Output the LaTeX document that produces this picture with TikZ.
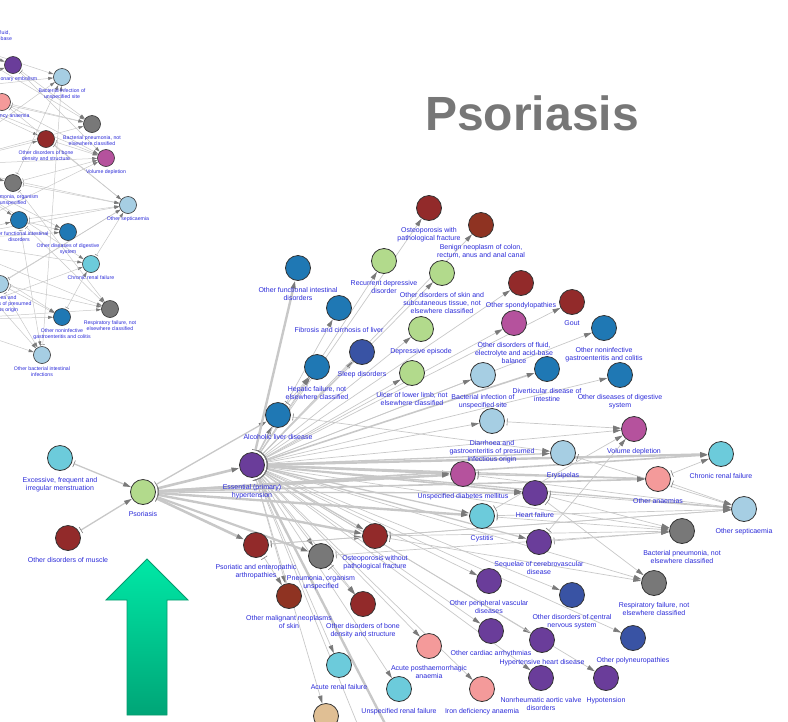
\documentclass[tikz,border=0pt]{standalone}
\usepackage{fontspec}
\setmainfont{Liberation Sans}
\usetikzlibrary{arrows.meta}
\pgfdeclarelayer{links}
\pgfsetlayers{links,main}

\definecolor{cPurple}{HTML}{6A3D9A}
\definecolor{cBlue}{HTML}{1F78B4}
\definecolor{cIndigo}{HTML}{3953A4}
\definecolor{cLightBlue}{HTML}{A6CEE3}
\definecolor{cCyan}{HTML}{6CCBDB}
\definecolor{cGreen}{HTML}{B2DA8C}
\definecolor{cDarkRed}{HTML}{922A2A}
\definecolor{cBrick}{HTML}{8F3322}
\definecolor{cMagenta}{HTML}{B5529D}
\definecolor{cPink}{HTML}{F49A9A}
\definecolor{cGrey}{HTML}{787878}
\definecolor{cTan}{HTML}{E0BF94}
\definecolor{nodeRim}{HTML}{333333}
\definecolor{labelBlue}{HTML}{2A2AD8}
\definecolor{edgeGrey}{HTML}{C8C8C8}
\definecolor{tipGrey}{HTML}{7A7A7A}
\definecolor{titleGrey}{HTML}{777777}
\definecolor{arrowTop}{HTML}{00E8A6}
\definecolor{arrowBottom}{HTML}{00A577}
\definecolor{arrowRim}{HTML}{089A6E}

\tikzset{
  dis/.style={circle, draw=nodeRim, line width=0.8pt, minimum size=25pt, inner sep=0pt, fill=#1},
  sdis/.style={circle, draw=nodeRim, line width=0.6pt, minimum size=17pt, inner sep=0pt, fill=#1},
  lbl/.style={font=\fontsize{7}{8}\selectfont, text=labelBlue, align=center, inner sep=0pt},
  slbl/.style={font=\fontsize{5.2}{5.8}\selectfont, text=labelBlue, align=center, inner sep=0pt},
  link/.style={draw=edgeGrey, line width=#1, shorten <=2pt,
    arrows={Bar[width=7pt,line width=0.6pt,color=tipGrey]-Triangle[length=8pt,width=4.5pt,color=tipGrey]}},
  link/.default=0.7pt,
  slink/.style={draw=edgeGrey, line width=0.5pt, shorten <=1.5pt,
    arrows={Bar[width=4pt,line width=0.4pt,color=tipGrey]-Triangle[length=5pt,width=3pt,color=tipGrey]}},
}

% one disease node of the main graph: colour, name, x, y, caption
\newcommand\disnode[5]{\node[dis=#1, label={[lbl]below:{#5}}] (#2) at (#3,#4) {};}
% one disease node of the small graph
\newcommand\sdisnode[5]{\node[sdis=#1, label={[slbl]below:{#5}}] (#2) at (#3,#4) {};}

\begin{document}
\begin{tikzpicture}[x=1pt, y=-1pt, label distance=6pt]
\useasboundingbox (0,0) rectangle (788,721);
\clip (0,0) rectangle (788,721);

% ---------- small graph on the left ----------
\begin{scope}[label distance=3pt]
\sdisnode{cMagenta}{lfl}{-17}{19}{Other disorders of fluid,\\electrolyte and acid-base\\balance}
\sdisnode{cPurple}{lpu}{13}{65}{Pulmonary embolism}
\sdisnode{cLightBlue}{lbis}{62}{77}{Bacterial infection of\\unspecified site}
\sdisnode{cPink}{lida}{2}{102}{Iron deficiency anaemia}
\sdisnode{cGrey}{lbpn}{92}{124}{Bacterial pneumonia, not\\elsewhere classified}
\sdisnode{cDarkRed}{lobd}{46}{139}{Other disorders of bone\\density and structure}
\sdisnode{cMagenta}{lvol}{106}{158}{Volume depletion}
\sdisnode{cGrey}{lpno}{13}{183}{Pneumonia, organism\\unspecified}
\sdisnode{cLightBlue}{lsep}{128}{205}{Other septicaemia}
\sdisnode{cBlue}{lofi}{19}{220}{Other functional intestinal\\disorders}
\sdisnode{cBlue}{lodd}{68}{232}{Other diseases of digestive\\system}
\sdisnode{cCyan}{lcrf}{91}{264}{Chronic renal failure}
\sdisnode{cLightBlue}{ldia}{0}{284}{Diarrhoea and\\gastroenteritis of presumed\\infectious origin}
\sdisnode{cGrey}{lrsf}{110}{309}{Respiratory failure, not\\elsewhere classified}
\sdisnode{cBlue}{lonc}{62}{317}{Other noninfective\\gastroenteritis and colitis}
\sdisnode{cLightBlue}{lobi}{42}{355}{Other bacterial intestinal\\infections}
\end{scope}
\coordinate (sa) at (-60,90);
\coordinate (sb) at (-60,165);
\coordinate (sc) at (-60,240);
\coordinate (sd) at (-60,320);
\coordinate (se) at (-50,40);

% ---------- main graph ----------
\disnode{cGreen}{ps}{143}{492}{Psoriasis}
\disnode{cCyan}{exc}{60}{458}{Excessive, frequent and\\irregular menstruation}
\disnode{cDarkRed}{mus}{68}{538}{Other disorders of muscle}
\disnode{cPurple}{eh}{252}{465}{Essential (primary)\\hypertension}
\disnode{cBlue}{ald}{278}{415}{Alcoholic liver disease}
\disnode{cBlue}{hep}{317}{367}{Hepatic failure, not\\elsewhere classified}
\disnode{cBlue}{fib}{339}{308}{Fibrosis and cirrhosis of liver}
\disnode{cBlue}{ofi}{298}{268}{Other functional intestinal\\disorders}
\disnode{cIndigo}{slp}{362}{352}{Sleep disorders}
\disnode{cGreen}{rdd}{384}{261}{Recurrent depressive\\disorder}
\disnode{cDarkRed}{opf}{429}{208}{Osteoporosis with\\pathological fracture}
\disnode{cBrick}{bnc}{481}{225}{Benign neoplasm of colon,\\rectum, anus and anal canal}
\disnode{cGreen}{ods}{442}{273}{Other disorders of skin and\\subcutaneous tissue, not\\elsewhere classified}
\disnode{cGreen}{dep}{421}{329}{Depressive episode}
\disnode{cGreen}{ulc}{412}{373}{Ulcer of lower limb, not\\elsewhere classified}
\disnode{cDarkRed}{osp}{521}{283}{Other spondylopathies}
\disnode{cDarkRed}{gou}{572}{302}{Gout}
\disnode{cMagenta}{flu}{514}{323}{Other disorders of fluid,\\electrolyte and acid-base\\balance}
\disnode{cBlue}{ong}{604}{328}{Other noninfective\\gastroenteritis and colitis}
\disnode{cLightBlue}{bis}{483}{375}{Bacterial infection of\\unspecified site}
\disnode{cBlue}{div}{547}{369}{Diverticular disease of\\intestine}
\disnode{cBlue}{odd}{620}{375}{Other diseases of digestive\\system}
\disnode{cLightBlue}{dia}{492}{421}{Diarrhoea and\\gastroenteritis of presumed\\infectious origin}
\disnode{cMagenta}{vol}{634}{429}{Volume depletion}
\disnode{cLightBlue}{ery}{563}{453}{Erysipelas}
\disnode{cCyan}{crf}{721}{454}{Chronic renal failure}
\disnode{cMagenta}{udm}{463}{474}{Unspecified diabetes mellitus}
\disnode{cPink}{oan}{658}{479}{Other anaemias}
\disnode{cPurple}{hf}{535}{493}{Heart failure}
\disnode{cLightBlue}{sep}{744}{509}{Other septicaemia}
\disnode{cCyan}{cys}{482}{516}{Cystitis}
\disnode{cDarkRed}{owo}{375}{536}{Osteoporosis without\\pathological fracture}
\disnode{cPurple}{seq}{539}{542}{Sequelae of cerebrovascular\\disease}
\disnode{cGrey}{bpn}{682}{531}{Bacterial pneumonia, not\\elsewhere classified}
\disnode{cGrey}{rsf}{654}{583}{Respiratory failure, not\\elsewhere classified}
\disnode{cPurple}{opv}{489}{581}{Other peripheral vascular\\diseases}
\disnode{cIndigo}{cns}{572}{595}{Other disorders of central\\nervous system}
\disnode{cIndigo}{pol}{633}{638}{Other polyneuropathies}
\disnode{cPurple}{arr}{491}{631}{Other cardiac arrhythmias}
\disnode{cPurple}{hhd}{542}{640}{Hypertensive heart disease}
\disnode{cPurple}{nav}{541}{678}{Nonrheumatic aortic valve\\disorders}
\disnode{cPurple}{hyp}{606}{678}{Hypotension}
\disnode{cPink}{ida}{482}{689}{Iron deficiency anaemia}
\disnode{cPink}{pha}{429}{646}{Acute posthaemorrhagic\\anaemia}
\disnode{cCyan}{urf}{399}{689}{Unspecified renal failure}
\disnode{cCyan}{arf}{339}{665}{Acute renal failure}
\disnode{cDarkRed}{obd}{363}{604}{Other disorders of bone\\density and structure}
\disnode{cBrick}{mns}{289}{596}{Other malignant neoplasms\\of skin}
\disnode{cDarkRed}{pea}{256}{545}{Psoriatic and enteropathic\\arthropathies}
\disnode{cGrey}{pno}{321}{556}{Pneumonia, organism\\unspecified}
\node[dis=cTan] (tan) at (326,716) {};
\coordinate (offA) at (396,745);
\coordinate (offB) at (366,745);

% ---------- connectors ----------
\begin{pgfonlayer}{links}
% small graph
\foreach \t in {lpu,lbis,lida,lbpn,lobd,lvol}
  \draw[slink] (sa) -- (\t);
\foreach \t in {lbis,lbpn,lvol,lsep,lofi,lodd,lcrf,lobd,lpno}
  \draw[slink] (sb) -- (\t);
\foreach \t in {lsep,lodd,lcrf,lrsf,lonc,lobi,lofi,lvol}
  \draw[slink] (sc) -- (\t);
\foreach \t in {lrsf,lonc,lobi,lcrf,lsep,ldia}
  \draw[slink] (sd) -- (\t);
\foreach \t in {lpu,lbis,lbpn}
  \draw[slink] (se) -- (\t);
\draw[slink] (lpu) -- (lvol);
\draw[slink] (lpu) -- (lbpn);
\draw[slink] (lida) -- (lbpn);
\draw[slink] (lida) -- (lvol);
\draw[slink] (lida) -- (lsep);
\draw[slink] (lobd) -- (lsep);
\draw[slink] (lobd) -- (lvol);
\draw[slink] (lpno) -- (lsep);
\draw[slink] (lpno) -- (lvol);
\draw[slink] (lpno) -- (lbis);
\draw[slink] (lpno) -- (lrsf);
\draw[slink] (lofi) -- (lsep);
\draw[slink] (lofi) -- (lrsf);
\draw[slink] (lofi) -- (lobi);
\draw[slink] (lofi) -- (lodd);
\draw[slink] (ldia) -- (lrsf);
\draw[slink] (ldia) -- (lonc);
\draw[slink] (ldia) -- (lobi);
\draw[slink] (ldia) -- (lsep);
\draw[slink] (lcrf) -- (lsep);
\draw[slink] (lonc) -- (lcrf);
\draw[slink] (lobi) -- (lbis);

% main graph: into and out of the psoriasis node
\draw[link=1.3pt] (exc) -- (ps);
\draw[link=1.3pt] (mus) -- (ps);
\draw[link=2.6pt] (ps) -- (eh);
\draw[link=1.3pt] (ps) -- (ald);
\draw[link=2.6pt] (ps) -- (pea);
\draw[link=2.6pt] (ps) -- (udm);
\draw[link=2.4pt] (ps) -- (cys);
\draw[link=2.4pt] (ps) -- (owo);
\draw[link=1.6pt] (ps) -- (crf);
\draw[link=1.6pt] (ps) -- (oan);
\draw[link=2.2pt] (ps) -- (pno);
\draw[link=1.3pt] (ps) -- (hf);

% fan out of the hypertension node
\draw[link=1.3pt] (eh) -- (ald);
\draw[link] (eh) -- (hep);
\draw[link] (eh) -- (fib);
\draw[link=2.4pt] (eh) -- (ofi);
\draw[link] (eh) -- (slp);
\draw[link] (eh) -- (rdd);
\draw[link] (eh) -- (opf);
\draw[link] (eh) -- (bnc);
\draw[link] (eh) -- (ods);
\draw[link] (eh) -- (dep);
\draw[link] (eh) -- (ulc);
\draw[link] (eh) -- (osp);
\draw[link] (eh) -- (gou);
\draw[link] (eh) -- (flu);
\draw[link] (eh) -- (ong);
\draw[link] (eh) -- (bis);
\draw[link=1.6pt] (eh) -- (div);
\draw[link] (eh) -- (odd);
\draw[link] (eh) -- (dia);
\draw[link] (eh) -- (vol);
\draw[link=1.3pt] (eh) -- (ery);
\draw[link=2.4pt] (eh) -- (crf);
\draw[link=2.4pt] (eh) -- (udm);
\draw[link=1.3pt] (eh) -- (oan);
\draw[link=1.6pt] (eh) -- (hf);
\draw[link=1.3pt] (eh) -- (sep);
\draw[link=1.3pt] (eh) -- (cys);
\draw[link=1.3pt] (eh) -- (owo);
\draw[link=1.3pt] (eh) -- (seq);
\draw[link] (eh) -- (bpn);
\draw[link] (eh) -- (rsf);
\draw[link] (eh) -- (opv);
\draw[link] (eh) -- (cns);
\draw[link] (eh) -- (pol);
\draw[link] (eh) -- (arr);
\draw[link] (eh) -- (hhd);
\draw[link] (eh) -- (nav);
\draw[link] (eh) -- (hyp);
\draw[link] (eh) -- (ida);
\draw[link] (eh) -- (pha);
\draw[link] (eh) -- (urf);
\draw[link] (eh) -- (arf);
\draw[link] (eh) -- (obd);
\draw[link] (eh) -- (mns);
\draw[link] (eh) -- (pno);
\draw[link] (eh) -- (tan);
\draw[link=2.4pt] (eh) -- (offA);
\draw[link] (eh) -- (offB);

% links between the other conditions
\draw[link] (ald) -- (hep);
\draw[link] (ald) -- (ery);
\draw[link=1.3pt] (udm) -- (oan);
\draw[link] (udm) -- (sep);
\draw[link] (hf) -- (sep);
\draw[link] (hf) -- (bpn);
\draw[link] (hf) -- (rsf);
\draw[link] (cys) -- (sep);
\draw[link] (cys) -- (bpn);
\draw[link] (cys) -- (vol);
\draw[link] (ery) -- (sep);
\draw[link] (oan) -- (crf);
\draw[link] (oan) -- (sep);
\draw[link] (seq) -- (vol);
\draw[link] (seq) -- (bpn);
\draw[link] (dia) -- (vol);
\draw[link] (owo) -- (sep);
\draw[link] (owo) -- (bpn);
\draw[link] (owo) -- (rsf);
\draw[link] (pno) -- (obd);
\draw[link] (pno) -- (bpn);
\draw[link] (pea) -- (mns);
\draw[link] (pea) -- (owo);
\draw[link] (pea) -- (sep);
\end{pgfonlayer}

% ---------- title and pointer ----------
\node[anchor=base, font=\fontsize{48}{48}\selectfont\bfseries, text=titleGrey] (title) at (532,130) {Psoriasis};
\path[top color=arrowTop, bottom color=arrowBottom, draw=arrowRim, line width=0.8pt, line join=miter]
  (147,559) -- (188,600) -- (167,600) -- (167,715) -- (127,715) -- (127,600) -- (106,600) -- cycle;
\end{tikzpicture}
\end{document}
